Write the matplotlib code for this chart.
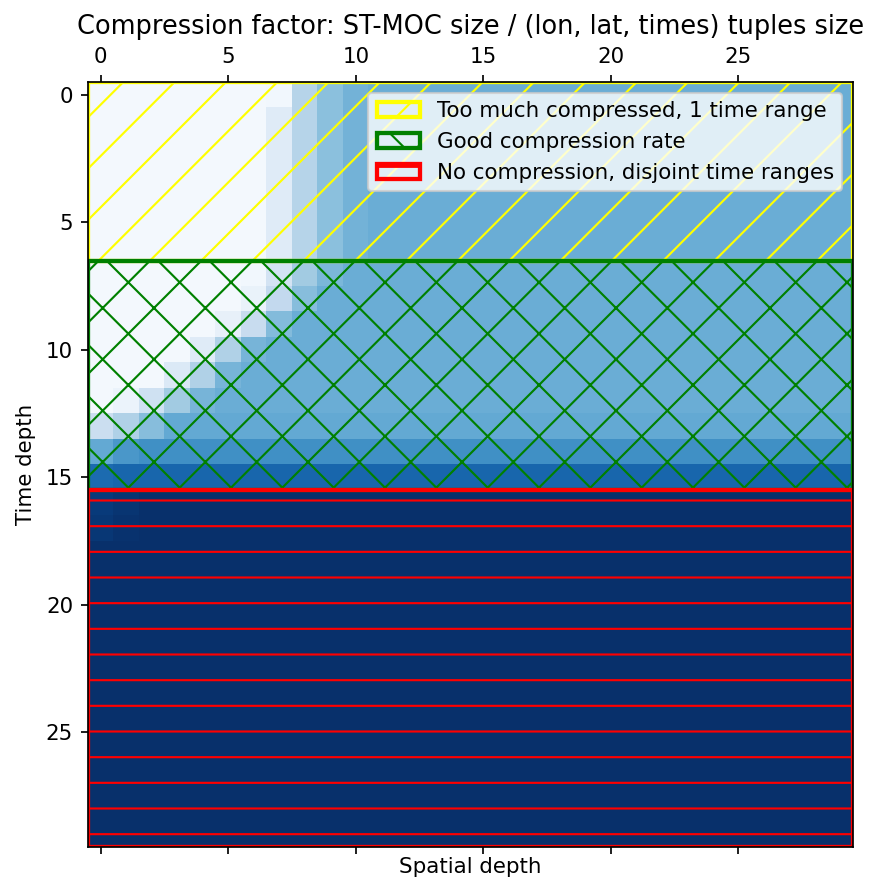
import numpy as np
import matplotlib
matplotlib.use("Agg")
import matplotlib.pyplot as plt
from matplotlib.patches import Rectangle

# Compression factor (ST-MOC size / tuples size), scaled to the largest value.
# rows = time depth, columns = spatial depth
n_time = 30
n_space = 30

# value reached at large spatial depth, one per time depth
plateau = [0.50, 0.50, 0.50, 0.50, 0.50, 0.50, 0.50, 0.50, 0.50, 0.50,
           0.50, 0.50, 0.50, 0.52, 0.63, 0.79, 1.00, 1.00, 1.00, 1.00,
           1.00, 1.00, 1.00, 1.00, 1.00, 1.00, 1.00, 1.00, 1.00, 1.00]

# first spatial depths of each time depth, before the plateau is reached
ramp = {
    0: [.02, .02, .02, .02, .02, .02, .02, .03, .30, .42, .48],
    1: [.02, .02, .02, .02, .02, .02, .02, .12, .30, .42, .48],
    2: [.02, .02, .02, .02, .02, .02, .02, .12, .30, .42, .48],
    3: [.02, .02, .02, .02, .02, .02, .02, .12, .30, .42, .48],
    4: [.02, .02, .02, .02, .02, .02, .02, .12, .30, .42, .48],
    5: [.02, .02, .02, .02, .02, .02, .02, .12, .30, .42, .48],
    6: [.02, .02, .02, .02, .02, .02, .02, .12, .30, .42, .48],
    7: [.02, .02, .02, .02, .02, .02, .03, .18, .36, .46],
    8: [.02, .02, .02, .02, .02, .02, .07, .26, .43],
    9: [.02, .02, .02, .02, .02, .08, .24, .44],
    10: [.02, .02, .02, .02, .12, .32, .47],
    11: [.02, .02, .02, .14, .32, .47],
    12: [.02, .06, .20, .36, .47],
    13: [.22, .32, .43],
    14: [.52, .60],
    15: [.77],
    16: [.96, .98],
    17: [.97, .99],
}

# (first time depth, last time depth, colour, hatch, label)
zones = [
    (0, 6, "yellow", "//", "Too much compressed, 1 time range"),
    (7, 15, "green", "xx", "Good compression rate"),
    (16, 29, "red", "--", "No compression, disjoint time ranges"),
]

Z = np.zeros((n_time, n_space))
for t in range(n_time):
    Z[t, :] = plateau[t]
    start = ramp.get(t, [])
    Z[t, :len(start)] = start

# hatch tiles are one inch wide, so a high dpi gives the wide hatch spacing;
# every size below is halved to compensate
DPI = 308
plt.rcParams.update({
    "font.size": 5,
    "axes.titlesize": 6,
    "axes.linewidth": 0.4,
    "axes.titlepad": 3,
    "axes.labelpad": 0.5,
    "xtick.major.size": 1.75,
    "ytick.major.size": 1.75,
    "xtick.major.width": 0.4,
    "ytick.major.width": 0.4,
    "xtick.major.pad": 1.75,
    "ytick.major.pad": 1.75,
    "hatch.linewidth": 0.5,
    "patch.linewidth": 0.5,
})

fig = plt.figure(figsize=(874 / DPI, 879 / DPI), dpi=DPI)
ax = fig.add_axes([0.1007, 0.0364, 0.8753, 0.8703])
ax.matshow(Z, cmap="Blues", vmin=0, vmax=1)

for first, last, col, hatch, label in zones:
    ax.add_patch(Rectangle((-0.5, first - 0.5), n_space, last - first + 1,
                           fill=False, edgecolor=col, hatch=hatch, lw=1.0,
                           label=label))

ax.set_title("Compression factor: ST-MOC size / (lon, lat, times) tuples size")
ax.set_xlabel("Spatial depth")
ax.set_ylabel("Time depth", labelpad=2.2)
ax.legend(loc="upper right")

fig.savefig("out.png", dpi=DPI)
